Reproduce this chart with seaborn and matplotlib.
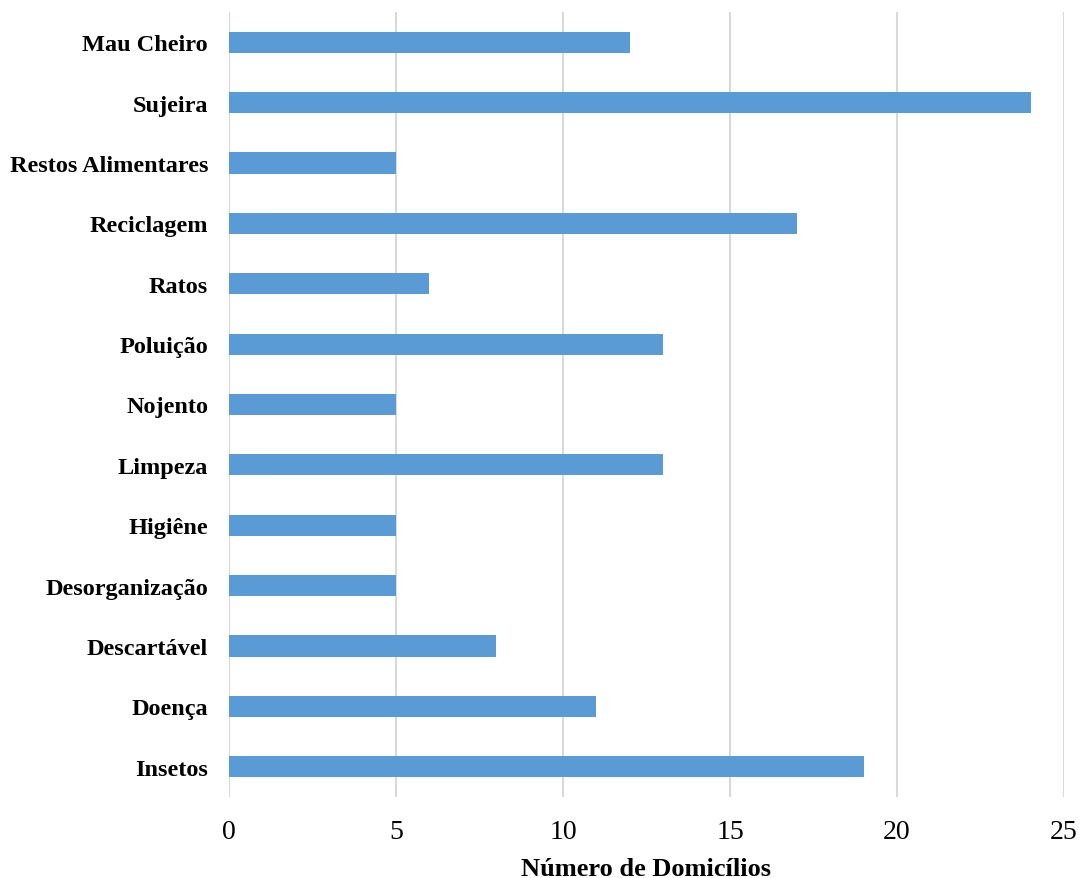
import matplotlib
matplotlib.use("Agg")
import matplotlib.pyplot as plt
import seaborn as sns
import pandas as pd

categorias = ["Mau Cheiro", "Sujeira", "Restos Alimentares", "Reciclagem", "Ratos",
              "Poluição", "Nojento", "Limpeza", "Higiêne", "Desorganização",
              "Descartável", "Doença", "Insetos"]
domicilios = [12, 24, 5, 17, 6, 13, 5, 13, 5, 5, 8, 11, 19]
ticks_x = [0, 5, 10, 15, 20, 25]

sns.set_theme(style="white")
plt.rcParams["font.family"] = ["Liberation Serif", "DejaVu Serif"]

df = pd.DataFrame({"categoria": categorias, "domicilios": domicilios})

fig = plt.figure(figsize=(10.82, 8.79), dpi=100)
ax = fig.add_axes([0.2116, 0.0922, 0.7718, 0.893])

sns.barplot(data=df, x="domicilios", y="categoria", orient="h",
            color="#5B9BD5", saturation=1, width=0.35, linewidth=0, ax=ax)

ax.set_xlim(0, 25)
ax.set_ylim(len(categorias) - 0.5, -0.5)
ax.set_xticks(ticks_x)
ax.xaxis.grid(True, color="#d9d9d9", linewidth=1.5)
ax.set_axisbelow(True)
for s in ax.spines.values():
    s.set_visible(False)
ax.axvline(0, color="#d9d9d9", linewidth=1.5, zorder=0)

ax.tick_params(axis="x", length=0, pad=16, labelsize=20, colors="black")
ax.tick_params(axis="y", length=0, pad=15, labelsize=17.5, colors="black")
for lbl in ax.get_yticklabels():
    lbl.set_fontweight("bold")

ax.set_ylabel("")
ax.set_xlabel("Número de Domicílios", fontsize=19, fontweight="bold",
              color="black", labelpad=9)

fig.savefig("out.png", dpi=100)
